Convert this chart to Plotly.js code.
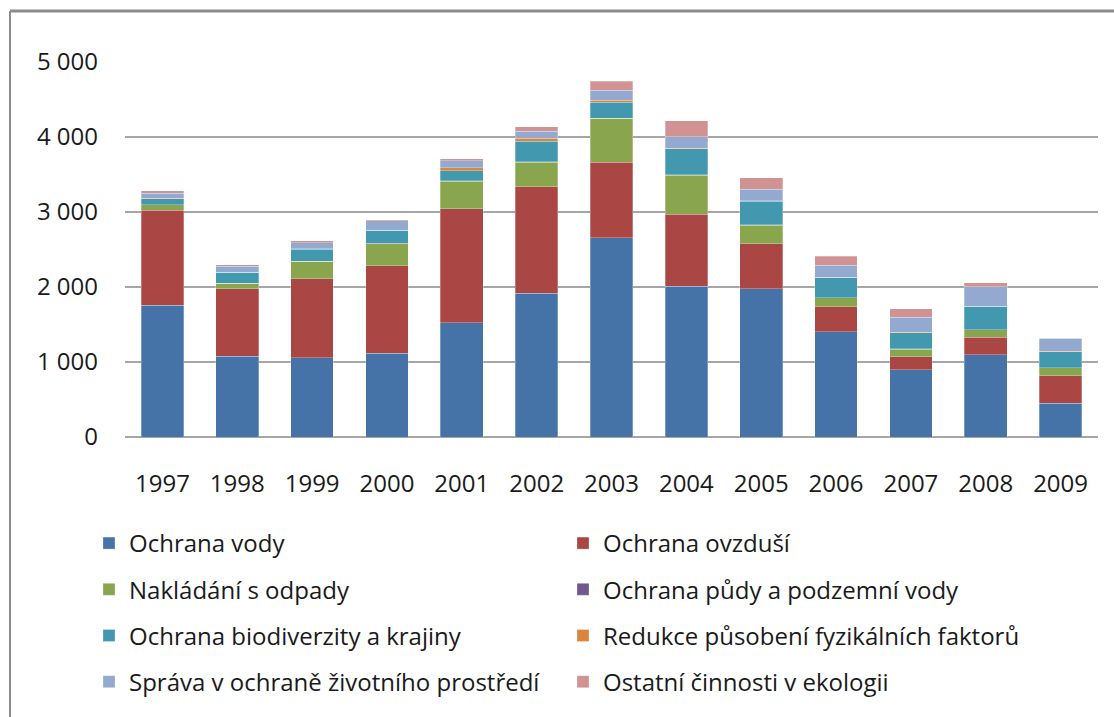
<!DOCTYPE html>
<html><head><meta charset="utf-8">
<script src="https://cdn.plot.ly/plotly-3.0.1.min.js"></script>
<style>html,body{margin:0;padding:0;background:#fff}#chart{width:1114px;height:717px}</style>
</head><body><div id="chart"></div>
<script>
const years = ['1997','1998','1999','2000','2001','2002','2003','2004','2005','2006','2007','2008','2009'];
const ochranaVody = [1757,1078,1060,1118,1522,1917,2657,2010,1974,1406,900,1096,453];
const ochranaOvzdusi = [1265,896,1052,1167,1521,1419,1008,959,603,333,173,235,367];
const odpady = [75,76,231,293,369,329,585,523,249,115,98,97,103];
const pudaVoda = [3,3,3,3,3,3,3,3,3,3,3,3,3];
const biodiverzita = [80,141,160,173,133,275,213,350,316,271,217,311,213];
const fyzikalni = [4,4,4,4,44,40,22,5,4,4,4,4,4];
const sprava = [63,80,80,124,93,97,133,155,154,160,200,258,173];
const ostatni = [35,19,30,18,27,54,120,214,156,115,116,53,0];

const names = ['Ochrana vody','Ochrana ovzduší','Nakládání s odpady','Ochrana půdy a podzemní vody',
  'Ochrana biodiverzity a krajiny','Redukce působení fyzikálních faktorů','Správa v ochraně životního prostředí','Ostatní činnosti v ekologii'];
const series = [ochranaVody, ochranaOvzdusi, odpady, pudaVoda, biodiverzita, fyzikalni, sprava, ostatni];
const colors = ['#4572A7','#AA4643','#89A54E','#71588F','#4198AF','#DB843D','#93A9CF','#D19392'];

const traces = series.map((vals,i)=>({
  type:'bar', x: years, y: vals, name: names[i],
  marker:{color: colors[i], line:{color:'rgba(255,255,255,0.35)', width:0.8}},
  legend: i%2===0 ? 'legend' : 'legend2',
  legendgroup: 'g'+i,
  hoverinfo:'x+y+name'
}));

const F = "'Open Sans', 'Noto Sans', sans-serif";
const L = 125, R = 16, T = 62, B = 280;
const W = 1114 - L - R, H = 717 - T - B;
const px = x => (x - L) / W;
const py = y => 1 - (y - T) / H;

const legendCommon = {
  orientation:'v', traceorder:'grouped', tracegroupgap: 12,
  font:{family:F, size:24, color:'#1a1a1a'}, bgcolor:'rgba(0,0,0,0)',
  xanchor:'left', yanchor:'top', itemclick:false, itemdoubleclick:false
};

const layout = {
  width:1114, height:717,
  margin:{l:L, r:R, t:T, b:B, pad:0},
  paper_bgcolor:'#fff', plot_bgcolor:'#fff',
  separators:', ',
  barmode:'stack', bargap:0.43,
  font:{family:F, size:24, color:'#1a1a1a'},
  showlegend:true,
  xaxis:{type:'category', showgrid:false, showline:false, ticks:'', zeroline:false,
    tickfont:{family:F, size:24, color:'#1a1a1a'}, ticklabelstandoff:30},
  yaxis:{range:[0,5000], tickvals:[0,1000,2000,3000,4000,5000], tickformat:',d',
    showgrid:true, gridcolor:'#a6a6a6', gridwidth:1.6, zeroline:true, zerolinecolor:'#a6a6a6', zerolinewidth:1.6,
    showline:false, ticks:'', tickfont:{family:F, size:24, color:'#1a1a1a'}, ticklabelstandoff:26},
  legend: Object.assign({}, legendCommon, {x: px(89), y: py(521)}),
  legend2: Object.assign({}, legendCommon, {x: px(563), y: py(521)}),
  shapes:[
    {type:'line', xref:'paper', yref:'paper', x0:px(10), x1:px(10), y0:py(717), y1:py(11), line:{color:'#8c8c8c', width:2}},
    {type:'line', xref:'paper', yref:'paper', x0:px(10), x1:px(1114), y0:py(11), y1:py(11), line:{color:'#8c8c8c', width:3}}
  ]
};

Plotly.newPlot('chart', traces, layout, {displayModeBar:false, staticPlot:false});
</script></body></html>
